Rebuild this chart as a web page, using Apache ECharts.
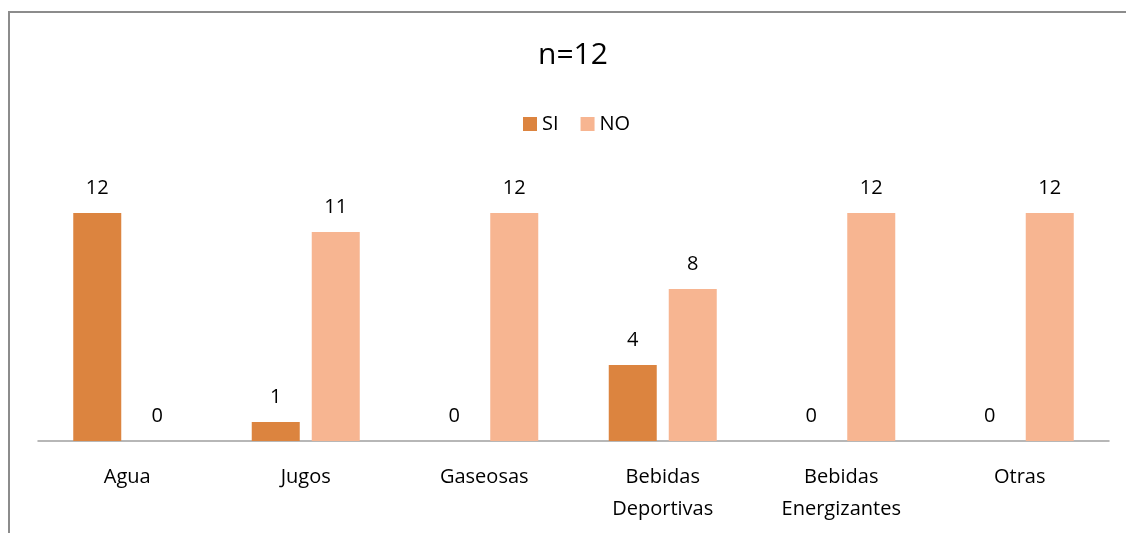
<!DOCTYPE html>
<html>
<head>
<meta charset="utf-8">
<script src="https://cdn.jsdelivr.net/npm/echarts@6/dist/echarts.min.js"></script>
<style>
  html, body { margin: 0; padding: 0; background: #fff; }
  #chart { width: 1126px; height: 533px; }
</style>
</head>
<body>
<div id="chart"></div>
<script>
// Beverage consumption, n=12
const categories = ['Agua', 'Jugos', 'Gaseosas', 'Bebidas\nDeportivas', 'Bebidas\nEnergizantes', 'Otras'];
const siValues = [12, 1, 0, 4, 0, 0];
const noValues = [0, 11, 12, 8, 12, 12];

const FONT = '"Open Sans", "Noto Sans", sans-serif';

const chart = echarts.init(document.getElementById('chart'));

const valueLabel = {
  show: true,
  position: 'top',
  distance: 15,
  color: '#000',
  fontSize: 20,
  fontFamily: FONT
};

chart.setOption({
  animation: false,
  backgroundColor: '#fff',
  title: {
    text: 'n=12',
    left: 533,
    top: 35,
    textStyle: { color: '#000', fontSize: 30, fontWeight: 'normal', fontFamily: FONT }
  },
  legend: {
    top: 109,
    left: 518,
    itemWidth: 14,
    itemHeight: 14,
    itemGap: 22,
    icon: 'rect',
    textStyle: { color: '#000', fontSize: 20, fontFamily: FONT },
    data: ['SI', 'NO']
  },
  // chart frame: top and left edges
  graphic: [
    {
      type: 'line',
      shape: { x1: 8, y1: 12, x2: 1126, y2: 12 },
      style: { stroke: '#8c8c8c', lineWidth: 2 },
      z: 100
    },
    {
      type: 'line',
      shape: { x1: 9, y1: 11, x2: 9, y2: 533 },
      style: { stroke: '#8c8c8c', lineWidth: 2 },
      z: 100
    }
  ],
  grid: { left: 38, right: 17, top: 213, bottom: 92 },
  xAxis: {
    type: 'category',
    data: categories,
    axisLine: { lineStyle: { color: '#a0a0a0', width: 1.5 } },
    axisTick: { show: false },
    axisLabel: {
      color: '#000',
      fontSize: 20,
      fontFamily: FONT,
      margin: 20,
      lineHeight: 32,
      interval: 0
    }
  },
  yAxis: {
    type: 'value',
    min: 0,
    max: 12,
    show: false,
    splitLine: { show: false }
  },
  series: [
    {
      name: 'SI',
      type: 'bar',
      data: siValues,
      barWidth: 48,
      barGap: '25%',
      itemStyle: { color: '#dc843f' },
      label: valueLabel
    },
    {
      name: 'NO',
      type: 'bar',
      data: noValues,
      barWidth: 48,
      itemStyle: { color: '#f7b591' },
      label: valueLabel
    }
  ]
});
</script>
</body>
</html>
